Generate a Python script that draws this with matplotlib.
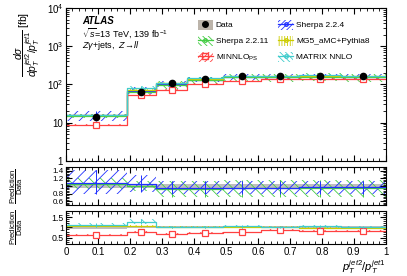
import numpy as np
import matplotlib
matplotlib.use("Agg")
import matplotlib.pyplot as plt
from matplotlib.patches import Patch
from matplotlib.lines import Line2D
from matplotlib.ticker import FixedLocator, MultipleLocator, FuncFormatter, LogLocator, NullFormatter

plt.rcParams['font.family'] = ['Liberation Sans', 'DejaVu Sans']
plt.rcParams['hatch.linewidth'] = 0.6
plt.rcParams['mathtext.fontset'] = 'custom'
plt.rcParams['mathtext.rm'] = 'Liberation Sans'
plt.rcParams['mathtext.it'] = 'Liberation Sans:italic'
plt.rcParams['mathtext.bf'] = 'Liberation Sans:bold'

# bins in pT(jet2)/pT(jet1)
edges = [0.0, 0.19, 0.28, 0.38, 0.49, 0.61, 0.73, 0.86, 1.0]

# measured cross section [fb]
data = [14.4, 65, 108, 141, 162, 165, 169, 165]
data_err = [0.06, 0.05, 0.05, 0.05, 0.05, 0.05, 0.05, 0.06]

# predictions as ratio to data, with lower/upper band edges
sh224 = [1.08, 1.05, 0.95, 0.95, 0.96, 0.96, 0.97, 0.97]
sh224_lo = [0.78, 0.85, 0.80, 0.80, 0.80, 0.80, 0.80, 0.80]
sh224_hi = [1.42, 1.30, 1.12, 1.12, 1.13, 1.13, 1.14, 1.14]

sh2211 = [1.06, 1.00, 0.92, 0.93, 0.95, 0.95, 0.95, 0.95]
sh2211_lo = [0.92, 0.86, 0.72, 0.72, 0.72, 0.72, 0.72, 0.72]
sh2211_hi = [1.20, 1.14, 1.12, 1.13, 1.15, 1.15, 1.15, 1.15]

mg5 = [1.08, 1.08, 1.02, 1.00, 1.00, 1.00, 0.99, 0.99]
mg5_lo = [1.02, 1.02, 0.97, 0.95, 0.95, 0.95, 0.94, 0.94]
mg5_hi = [1.14, 1.14, 1.07, 1.05, 1.05, 1.05, 1.04, 1.04]

minnlo = [0.62, 0.80, 0.67, 0.72, 0.76, 0.86, 0.82, 0.83]
minnlo_lo = [0.58, 0.75, 0.63, 0.68, 0.72, 0.82, 0.78, 0.79]
minnlo_hi = [0.66, 0.85, 0.71, 0.76, 0.80, 0.90, 0.86, 0.87]

matrix = [1.10, 1.28, 1.03, 1.03, 1.05, 1.02, 1.05, 1.03]
matrix_lo = [1.00, 1.15, 0.97, 0.97, 0.99, 0.97, 0.99, 0.97]
matrix_hi = [1.20, 1.40, 1.09, 1.09, 1.11, 1.07, 1.11, 1.09]

edges = np.array(edges)
centers = 0.5 * (edges[:-1] + edges[1:])
data = np.array(data)

MINNLO = r'MINNLO$_{\mathregular{PS}}$'
models = {
    'Sherpa 2.2.4': (sh224, sh224_lo, sh224_hi, '#2030ff', '///', 'none'),
    'Sherpa 2.2.11': (sh2211, sh2211_lo, sh2211_hi, '#44cc44', '\\\\\\', 'none'),
    'MG5_aMC+Pythia8': (mg5, mg5_lo, mg5_hi, '#cccc00', '|||', 'none'),
    MINNLO: (minnlo, minnlo_lo, minnlo_hi, '#ff4040', '///', 's'),
    'MATRIX NNLO': (matrix, matrix_lo, matrix_hi, '#40cccc', '\\\\\\', 'none'),
}


def step(v):
    v = np.asarray(v, dtype=float)
    return np.append(v, v[-1])


def draw_model(ax, r, lo, hi, color, hatch, marker, scale):
    r, lo, hi = np.array(r) * scale, np.array(lo) * scale, np.array(hi) * scale
    ax.fill_between(edges, step(lo), step(hi), step='post', facecolor='none',
                    edgecolor=color, hatch=hatch, linewidth=0)
    ax.step(edges, step(r), where='post', color=color, lw=0.9)
    ax.errorbar(centers, r, yerr=[r - lo, hi - r], fmt='none', ecolor=color, elinewidth=0.7)
    if marker != 'none':
        ax.plot(centers, r, ls='none', marker=marker, ms=5, mfc='white', mec=color, mew=0.9)


fig = plt.figure(figsize=(4.07, 2.76), dpi=100)
ax0 = fig.add_axes([0.162, 0.417, 0.786, 0.554])
ax1 = fig.add_axes([0.162, 0.257, 0.786, 0.138])
ax2 = fig.add_axes([0.162, 0.116, 0.786, 0.120])

# main panel
for name, (r, lo, hi, c, h, m) in models.items():
    draw_model(ax0, r, lo, hi, c, h, m, data)
ax0.plot(centers, data, 'o', color='black', ms=4.5, zorder=5)
ax0.set_yscale('log')
ax0.set_ylim(1, 1e4)
ax0.yaxis.set_major_formatter(FuncFormatter(
    lambda v, p: {1: '1', 10: '10'}.get(int(round(v)), r'$10^{%d}$' % round(np.log10(v)))))
ax0.yaxis.set_minor_locator(LogLocator(subs=np.arange(2, 10)))
ax0.yaxis.set_minor_formatter(NullFormatter())
ax0.set_ylabel(r'$\dfrac{d\sigma}{dp_T^{jet2}/p_T^{jet1}}$ [fb]', fontsize=7.5)
ax0.yaxis.set_label_coords(-0.075, 0.76)

ax0.text(0.05, 0.895, 'ATLAS', transform=ax0.transAxes, fontsize=7, fontweight='bold', style='italic')
ax0.text(0.05, 0.81, r'$\sqrt{s}$=13 TeV, 139 fb$^{-1}$', transform=ax0.transAxes, fontsize=6.5)
ax0.text(0.05, 0.74, r'$Z\gamma$+jets,  $Z\!\rightarrow\! ll$', transform=ax0.transAxes, fontsize=6.5)

# ratio panel 1: Sherpa
for name in ['Sherpa 2.2.11', 'Sherpa 2.2.4']:
    r, lo, hi, c, h, m = models[name]
    draw_model(ax1, r, lo, hi, c, h, m, 1.0)
# ratio panel 2: others
for name in ['MG5_aMC+Pythia8', MINNLO, 'MATRIX NNLO']:
    r, lo, hi, c, h, m = models[name]
    draw_model(ax2, r, lo, hi, c, h, m, 1.0)

for ax in (ax1, ax2):
    ax.fill_between(edges, step(1 - np.array(data_err)), step(1 + np.array(data_err)),
                    step='post', color='#b0b0b0', alpha=0.8, lw=0, zorder=0)
    ax.set_ylabel(r'$\dfrac{\mathregular{Prediction}}{\mathregular{Data}}$', fontsize=5.5)
    ax.yaxis.set_label_coords(-0.128, 0.5)

ax1.set_ylim(0.5, 1.5)
ax1.yaxis.set_major_locator(FixedLocator([0.6, 0.8, 1.0, 1.2, 1.4]))
ax1.yaxis.set_major_formatter(FuncFormatter(lambda v, p: '%g' % v))
ax1.yaxis.set_minor_locator(MultipleLocator(0.04))
ax2.set_ylim(0.2, 1.8)
ax2.yaxis.set_major_locator(FixedLocator([0.5, 1.0, 1.5]))
ax2.yaxis.set_major_formatter(FuncFormatter(lambda v, p: '%g' % v))
ax2.yaxis.set_minor_locator(MultipleLocator(0.1))

for ax in (ax0, ax1, ax2):
    ax.set_xlim(0, 1)
    ax.xaxis.set_major_locator(MultipleLocator(0.1))
    ax.xaxis.set_minor_locator(MultipleLocator(0.02))
    ax.tick_params(which='both', direction='in', top=True, right=True, labelsize=7, pad=2)
    ax.tick_params(which='major', length=4)
    ax.tick_params(which='minor', length=2)
ax1.tick_params(axis='y', labelsize=5.8, pad=1.5)
ax2.tick_params(axis='y', labelsize=6.3, pad=1.5)
ax0.tick_params(labelbottom=False)
ax1.tick_params(labelbottom=False)
ax2.xaxis.set_major_formatter(FuncFormatter(lambda v, p: '%g' % v))
ax2.set_xlabel(r'$p_T^{jet2}/p_T^{jet1}$', fontsize=8)
ax2.xaxis.set_label_coords(0.93, -0.42)

# legend
handles = [(Patch(facecolor='#bcb4aa', edgecolor='none'), Line2D([], [], ls='none', marker='o', color='black', ms=4))]
labels = ['Data']
order = ['Sherpa 2.2.11', MINNLO, 'Sherpa 2.2.4', 'MG5_aMC+Pythia8', 'MATRIX NNLO']
for name in order:
    r, lo, hi, c, h, m = models[name]
    handles.append((Patch(facecolor='none', edgecolor=c, hatch=h * 2, lw=0),
                    Line2D([], [], color=c, lw=0.9, marker=m if m != 'none' else 'o',
                           ms=4 if m != 'none' else 2.5, mfc='none', mec=c)))
    labels.append(name)
leg = fig.legend(handles, labels, ncol=2, loc='upper left', bbox_to_anchor=(0.486, 0.929),
                 frameon=False, fontsize=6, handlelength=1.8, handleheight=1.5,
                 columnspacing=1.2, labelspacing=0.7, handletextpad=0.35,
                 borderpad=0, borderaxespad=0)

fig.savefig('out.png', dpi=100)
